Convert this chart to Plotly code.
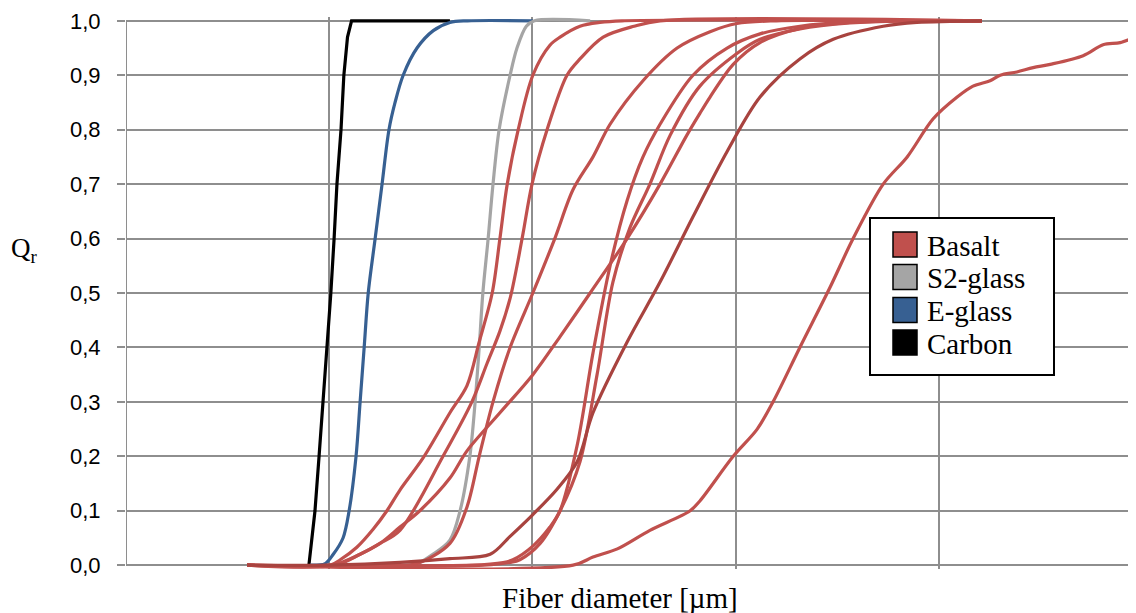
import plotly.graph_objects as go

# ---- data (x: fiber diameter, arbitrary µm scale; y: cumulative fraction Qr) ----
carbon_x = [4.50, 4.65, 4.75, 4.85, 4.95, 5.04, 5.12, 5.19, 5.29, 5.36, 5.45, 5.55, 7.97]
carbon_y = [0.0, 0.1, 0.2, 0.3, 0.4, 0.5, 0.6, 0.7, 0.8, 0.9, 0.97, 1.0, 1.0]

eglass_x = [4.53, 4.90, 5.10, 5.34, 5.49, 5.66, 5.76, 5.86, 5.96, 6.13, 6.30, 6.47, 6.62, 6.82, 7.16, 7.56, 7.97, 8.40, 10.01]
eglass_y = [0.0, 0.003, 0.02, 0.05, 0.1, 0.2, 0.3, 0.4, 0.5, 0.6, 0.7, 0.8, 0.85, 0.9, 0.95, 0.982, 0.997, 1.0, 1.0]

s2_x = [6.50, 7.16, 7.55, 7.97, 8.22, 8.46, 8.59, 8.69, 8.78, 8.91, 9.03, 9.18, 9.45, 9.62, 9.85, 10.05, 11.42]
s2_y = [0.0, 0.003, 0.02, 0.046, 0.1, 0.2, 0.3, 0.4, 0.5, 0.6, 0.7, 0.8, 0.9, 0.95, 0.99, 1.0, 1.0]

basalt1_x = [2.98, 5.02, 5.27, 5.68, 6.08, 6.42, 6.74, 7.31, 7.97, 8.39, 8.69, 9.01, 9.20, 9.38, 9.65, 10.01, 10.43, 10.68, 11.17, 11.66, 12.20, 21.06]
basalt1_y = [0.0, 0.0, 0.01, 0.033, 0.066, 0.1, 0.138, 0.197, 0.28, 0.33, 0.41, 0.5, 0.6, 0.7, 0.8, 0.9, 0.955, 0.97, 0.99, 0.997, 1.0, 1.0]

basalt2_x = [2.98, 5.02, 5.30, 5.76, 6.25, 6.74, 7.80, 8.51, 8.88, 9.20, 9.45, 9.62, 9.77, 9.99, 10.36, 10.85, 11.17, 11.74, 12.50, 13.14, 21.06]
basalt2_y = [0.0, 0.0, 0.005, 0.02, 0.04, 0.064, 0.2, 0.30, 0.37, 0.43, 0.49, 0.55, 0.61, 0.7, 0.8, 0.9, 0.93, 0.97, 0.99, 1.0, 1.0]

basalt3_x = [2.98, 6.50, 7.16, 7.97, 8.39, 8.69, 9.03, 9.45, 10.01, 10.55, 11.00, 11.49, 11.91, 12.72, 13.56, 14.37, 15.03, 16.00, 21.06]
basalt3_y = [0.0, 0.0, 0.003, 0.04, 0.107, 0.20, 0.30, 0.40, 0.5, 0.6, 0.69, 0.75, 0.81, 0.89, 0.95, 0.98, 0.995, 1.0, 1.0]

basalt4_x = [2.98, 5.14, 5.76, 6.25, 6.74, 7.23, 7.97, 8.39, 9.20, 10.01, 10.68, 11.42, 12.33, 13.14, 13.80, 14.12, 14.37, 14.94, 15.60, 16.58, 17.82, 19.05, 21.06]
basalt4_y = [0.0, 0.0, 0.02, 0.04, 0.07, 0.1, 0.16, 0.21, 0.28, 0.35, 0.42, 0.50, 0.60, 0.70, 0.79, 0.83, 0.86, 0.92, 0.96, 0.986, 0.997, 1.0, 1.0]

basalt5_x = [2.98, 8.50, 9.28, 9.52, 10.01, 10.43, 10.68, 11.10, 11.49, 11.91, 12.33, 12.72, 13.14, 13.95, 14.79, 15.60, 16.58, 17.82, 19.05, 21.06]
basalt5_y = [0.0, 0.0, 0.005, 0.01, 0.035, 0.07, 0.10, 0.22, 0.39, 0.55, 0.67, 0.75, 0.81, 0.90, 0.95, 0.976, 0.99, 0.998, 1.0, 1.0]

basalt6_x = [2.98, 8.80, 9.45, 9.69, 10.19, 10.68, 11.17, 11.59, 11.98, 12.40, 12.89, 13.39, 14.12, 15.03, 15.60, 16.58, 17.82, 19.05, 21.06]
basalt6_y = [0.0, 0.0, 0.005, 0.01, 0.04, 0.10, 0.19, 0.35, 0.52, 0.62, 0.70, 0.79, 0.88, 0.94, 0.966, 0.985, 0.996, 1.0, 1.0]

basalt7_x = [2.98, 5.02, 6.74, 7.97, 8.96, 9.45, 10.01, 10.61, 11.10, 11.49, 12.33, 13.14, 13.95, 14.79, 15.60, 16.58, 17.40, 18.63, 19.46, 21.06]
basalt7_y = [0.0, 0.0, 0.005, 0.012, 0.02, 0.053, 0.093, 0.14, 0.19, 0.28, 0.41, 0.52, 0.64, 0.76, 0.86, 0.93, 0.966, 0.99, 0.997, 1.0]

basalt8_x = [2.98, 11.00, 11.49, 12.09, 12.89, 13.88, 14.12, 14.94, 15.53, 15.92, 16.58, 17.32, 17.89, 18.63, 19.22, 19.86, 20.45, 20.84, 21.26, 21.51, 21.92, 22.32, 22.74, 23.55, 24.04, 24.46, 24.85, 25.20]
basalt8_y = [0.0, 0.0, 0.015, 0.03, 0.064, 0.10, 0.118, 0.20, 0.25, 0.30, 0.40, 0.51, 0.60, 0.70, 0.75, 0.82, 0.86, 0.88, 0.89, 0.90, 0.906, 0.914, 0.92, 0.936, 0.956, 0.96, 0.97, 0.975]

legend_names = ["Basalt", "S2-glass", "E-glass", "Carbon"]

RED = "#C0504D"
DARKRED = "#A8433F"
GRAY = "#A5A5A5"
BLUE = "#376092"
BLACK = "#000000"
legend_colors = [RED, GRAY, BLUE, BLACK]

fig = go.Figure()

def add(x, y, color, width=3.2, shape="spline"):
    line = dict(color=color, width=width, shape=shape)
    if shape == "spline":
        line["smoothing"] = 0.9
    fig.add_trace(go.Scatter(x=x, y=y, mode="lines", showlegend=False,
                             line=line, hoverinfo="skip"))

add(carbon_x, carbon_y, BLACK, shape="linear")
add(eglass_x, eglass_y, BLUE)
add(s2_x, s2_y, GRAY)
for bx, by in [(basalt8_x, basalt8_y), (basalt4_x, basalt4_y), (basalt6_x, basalt6_y),
               (basalt5_x, basalt5_y), (basalt3_x, basalt3_y), (basalt2_x, basalt2_y),
               (basalt1_x, basalt1_y)]:
    add(bx, by, RED)
add(basalt7_x, basalt7_y, DARKRED)

GRID = "#8E8E8E"
OFF = 8  # page body margin
W, H = 1136 - OFF, 613 - OFF
PL, PR, PT, PB = 126 - OFF, 0, 17 - OFF, 44
ph = H - PT - PB
pw = W - PL - PR

def px2paper(px):
    return (px - OFF - PL) / pw

def py2paper(py):
    return (H - PB - (py - OFF)) / ph

shapes = []
# left axis line
shapes.append(dict(type="line", xref="x", yref="y", x0=0, x1=0, y0=0, y1=1,
                   line=dict(color=GRID, width=2), layer="below"))
# legend box
shapes.append(dict(type="rect", xref="paper", yref="paper",
                   x0=px2paper(870), x1=px2paper(1054), y0=py2paper(375), y1=py2paper(218),
                   fillcolor="white", line=dict(color="black", width=2), layer="above"))
annotations = []
row_centers = [244.5, 277, 310, 342.5]
for name, col, yc in zip(legend_names, legend_colors, row_centers):
    shapes.append(dict(type="rect", xref="paper", yref="paper",
                       x0=px2paper(893), x1=px2paper(917),
                       y0=py2paper(yc + 12.5), y1=py2paper(yc - 12.5),
                       fillcolor=col, line=dict(color="black", width=1.5), layer="above"))
    annotations.append(dict(text=name, xref="paper", yref="paper",
                            x=px2paper(925), y=py2paper(yc + 1), xanchor="left", yanchor="middle",
                            showarrow=False,
                            font=dict(family="Liberation Serif", size=29, color="black")))

annotations.append(dict(text="Fiber diameter [µm]", xref="paper", yref="paper",
                        x=px2paper(620), y=py2paper(598), xanchor="center", yanchor="middle",
                        showarrow=False, font=dict(family="Liberation Serif", size=29, color="black")))
annotations.append(dict(text="Q<sub>r</sub>", xref="paper", yref="paper",
                        x=px2paper(24), y=py2paper(250), xanchor="center", yanchor="middle",
                        showarrow=False, font=dict(family="Liberation Serif", size=27, color="black")))

fig.update_layout(
    width=W, height=H,
    margin=dict(l=PL, r=PR, t=PT, b=PB, pad=0),
    paper_bgcolor="white", plot_bgcolor="white",
    separators=", ",
    showlegend=False,
    shapes=shapes,
    annotations=annotations,
    xaxis=dict(range=[0, 24.85], tickvals=[5, 10, 15, 20], showticklabels=False,
               showgrid=True, gridcolor=GRID, gridwidth=2, zeroline=False,
               showline=False, ticks=""),
    yaxis=dict(range=[-0.007, 1.007], tickvals=[0, 0.1, 0.2, 0.3, 0.4, 0.5, 0.6, 0.7, 0.8, 0.9, 1.0],
               tickformat=".1f", showgrid=True, gridcolor=GRID, gridwidth=2, zeroline=False,
               showline=False, ticks="outside", ticklen=8, tickwidth=2, tickcolor=GRID,
               ticklabelstandoff=12,
               tickfont=dict(family="Liberation Sans", size=22, color="black")),
)

fig.write_html("out.html")
